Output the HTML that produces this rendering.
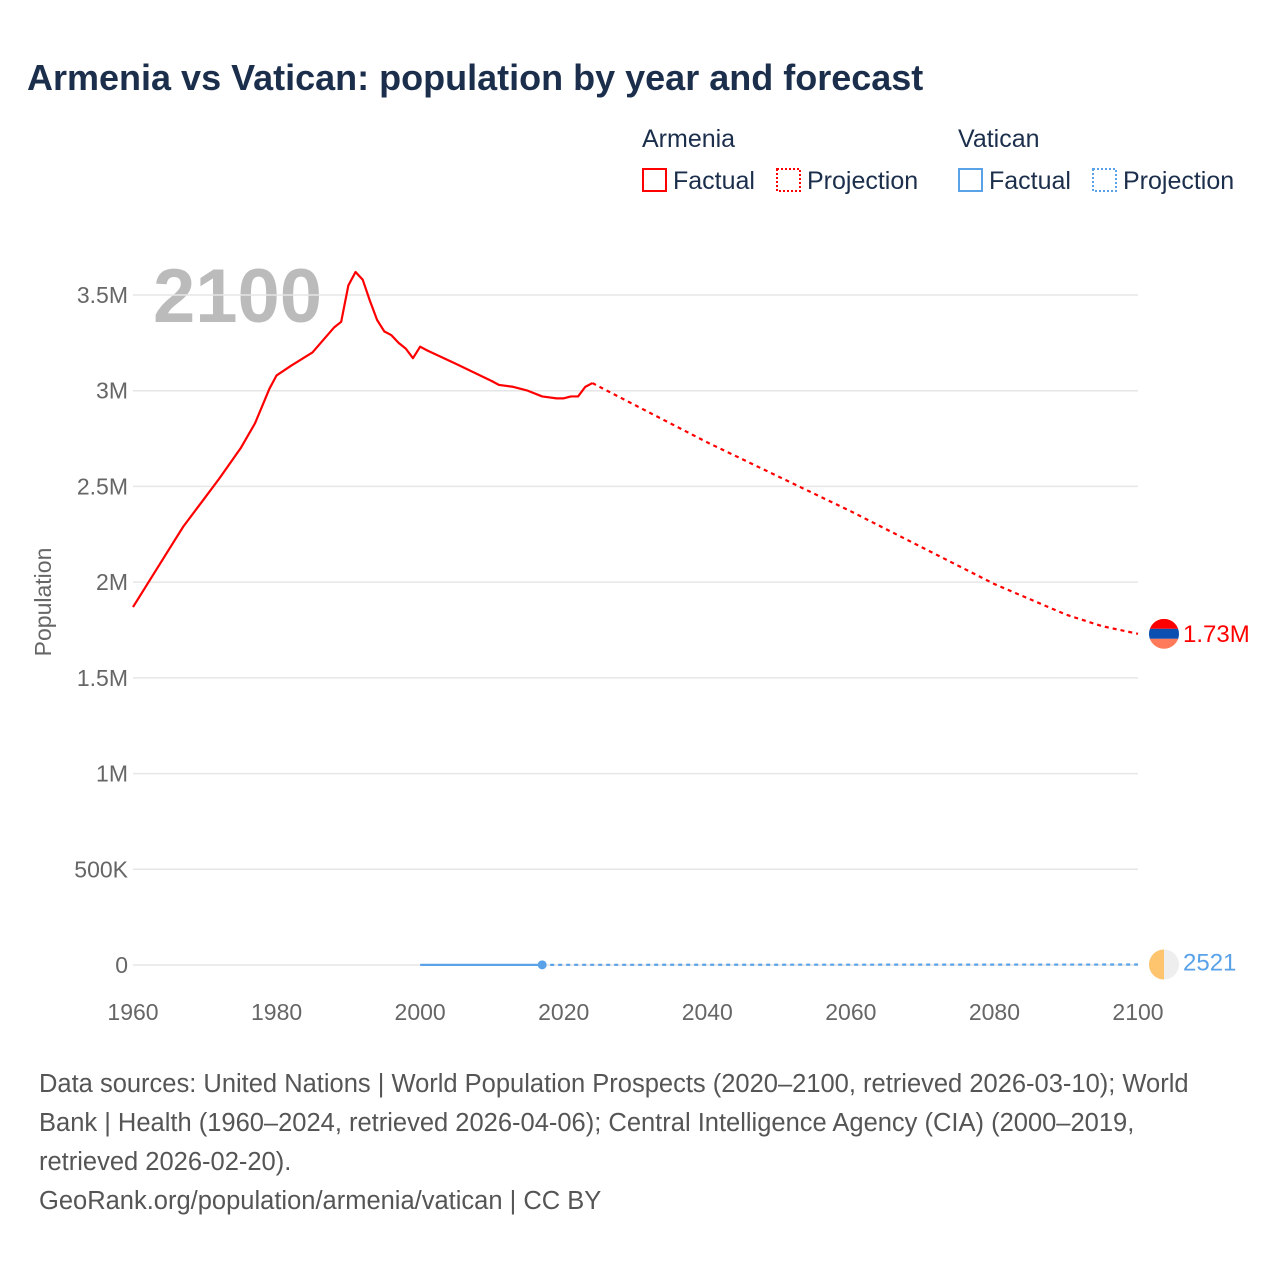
<!DOCTYPE html>
<html><head><meta charset="utf-8"><style>
body{margin:0;background:#fff;font-family:"Liberation Sans",sans-serif;}
</style></head><body>
<svg id="c" width="1280" height="1280" xmlns="http://www.w3.org/2000/svg">
<text x="27" y="90" font-size="36" font-weight="bold" fill="#1b2e4b">Armenia vs Vatican: population by year and forecast</text>
<g font-size="25" fill="#1b2e4b">
<text x="642" y="147">Armenia</text>
<text x="958" y="147">Vatican</text>
<g><rect x="643" y="169" width="23" height="22" fill="none" stroke="#f00" stroke-width="2"/><text x="673" y="189">Factual</text></g>
<g><rect x="777" y="169" width="23" height="22" fill="none" stroke="#f00" stroke-width="2" stroke-dasharray="2,2"/><text x="807" y="189">Projection</text></g>
<g><rect x="959" y="169" width="23" height="22" fill="none" stroke="#5aa2e8" stroke-width="2"/><text x="989" y="189">Factual</text></g>
<g><rect x="1093" y="169" width="23" height="22" fill="none" stroke="#5aa2e8" stroke-width="2" stroke-dasharray="2,2"/><text x="1123" y="189">Projection</text></g>
</g>
<text x="153" y="322" font-size="76" font-weight="bold" fill="#bbb">2100</text>
<g id="grid"></g><g id="marks"></g>
<text transform="translate(51,602) rotate(-90)" text-anchor="middle" font-size="23" fill="#666">Population</text>
<g font-size="25.5" fill="#555">
<text x="39" y="1092">Data sources: United Nations | World Population Prospects (2020–2100, retrieved 2026-03-10); World</text>
<text x="39" y="1131">Bank | Health (1960–2024, retrieved 2026-04-06); Central Intelligence Agency (CIA) (2000–2019,</text>
<text x="39" y="1170">retrieved 2026-02-20).</text>
<text x="39" y="1209">GeoRank.org/population/armenia/vatican | CC BY</text>
</g>
</svg>
<script>
const xTicks=[1960,1980,2000,2020,2040,2060,2080,2100];
const yTicks=[0,500000,1000000,1500000,2000000,2500000,3000000,3500000];
const yTickLabels=["0","500K","1M","1.5M","2M","2.5M","3M","3.5M"];
const armYears=[1960,1962,1965,1967,1970,1972,1975,1977,1978,1979,1980,1982,1985,1988,1989,1990,1991,1992,1993,1994,1995,1996,1997,1998,1999,2000,2001,2005,2010,2011,2013,2015,2017,2019,2020,2021,2022,2023,2024];
const armPop=[1.87,1.99,2.17,2.29,2.44,2.54,2.70,2.83,2.92,3.01,3.08,3.13,3.20,3.33,3.36,3.55,3.62,3.58,3.47,3.37,3.31,3.29,3.25,3.22,3.17,3.23,3.21,3.14,3.05,3.03,3.02,3.0,2.97,2.96,2.96,2.97,2.97,3.02,3.04].map(v=>v*1e6);
const armProjYears=[2024,2025,2040,2060,2080,2090,2095,2100];
const armProjPop=[3.04,3.02,2.73,2.37,1.99,1.83,1.77,1.73].map(v=>v*1e6);
const vatYears=[2000,2017];
const vatPop=[800,800];
const vatProjYears=[2017,2100];
const vatProjPop=[800,2521];
const x=y=>133+(y-1960)*(1005/140);
const yv=v=>965-v*(670/3500000);
const NS="http://www.w3.org/2000/svg";
const grid=document.getElementById('grid'),marks=document.getElementById('marks');
function mk(t,a,p){const e=document.createElementNS(NS,t);for(const k in a)e.setAttribute(k,a[k]);p.appendChild(e);return e;}
yTicks.forEach((v,i)=>{
 const l=mk('line',{x1:133,x2:1138,y1:yv(v),y2:yv(v),stroke:'#e6e6e6','stroke-width':1.5},grid);
 
 
 const t=mk('text',{x:128,y:yv(v)+8,'text-anchor':'end','font-size':23,fill:'#666'},grid);t.textContent=yTickLabels[i];
 
 
});
xTicks.forEach(v=>{
 const t=mk('text',{x:x(v),y:1020,'text-anchor':'middle','font-size':23,fill:'#666'},grid);t.textContent=v;
 
 
});
function line(xs,vs,col,dash,name){
 const p=mk('polyline',{points:xs.map((a,i)=>x(a)+','+yv(vs[i])).join(' '),fill:'none',stroke:col,'stroke-width':2.2,'stroke-linejoin':'round','stroke-dasharray':dash||'none'},marks);
 
 
}
line(armYears,armPop,'#f00','','armenia-factual-line');
line(armProjYears,armProjPop,'#f00','4,4','armenia-projection-line');
line(vatYears,vatPop,'#5aa2e8','','vatican-factual-line');
line(vatProjYears,vatProjPop,'#5aa2e8','4,4','vatican-projection-line');
const d=mk('circle',{cx:x(2017),cy:yv(800),r:4.5,fill:'#5aa2e8'},marks);


const ay=yv(armProjPop[armProjPop.length-1]), vy=yv(vatProjPop[1]);
const g1=mk('g',{},marks);


const cp=mk('clipPath',{id:'ca'},g1);
mk('circle',{cx:1164,cy:ay,r:15},cp);
mk('rect',{x:1149,y:ay-15,width:30,height:10,fill:'#f00','clip-path':'url(#ca)'},g1);
mk('rect',{x:1149,y:ay-5,width:30,height:10,fill:'#0b4fb0','clip-path':'url(#ca)'},g1);
mk('rect',{x:1149,y:ay+5,width:30,height:10,fill:'#ff7a5a','clip-path':'url(#ca)'},g1);
const t1=mk('text',{x:1183,y:ay+8,'font-size':24,fill:'#f00'},marks);t1.textContent='1.73M';


const g2=mk('g',{},marks);


mk('circle',{cx:1164,cy:vy,r:15,fill:'#eee'},g2);
mk('path',{d:`M1164 ${vy-15} A15 15 0 0 0 1164 ${vy+15} Z`,fill:'#ffc46e'},g2);
const t2=mk('text',{x:1183,y:vy+6,'font-size':24,fill:'#5aa2e8'},marks);t2.textContent='2521';


</script>
</body></html>
